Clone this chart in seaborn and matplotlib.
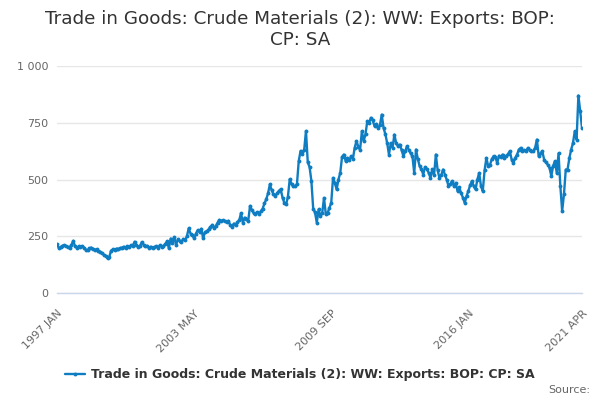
import pandas as pd
import matplotlib.pyplot as plt
import seaborn as sns

# Monthly values (1997 JAN .. 2021 APR)
y1997 = [215, 198, 202, 208, 210, 207, 203, 200, 212, 230, 205, 200]
y1998 = [205, 203, 207, 200, 190, 188, 197, 200, 195, 190, 193, 186]
y1999 = [182, 175, 168, 163, 152, 160, 187, 192, 190, 196, 193, 198]
y2000 = [200, 204, 198, 206, 203, 210, 208, 226, 212, 204, 208, 224]
y2001 = [212, 205, 208, 200, 204, 198, 202, 206, 200, 210, 203, 207]
y2002 = [215, 228, 197, 240, 222, 245, 212, 236, 228, 225, 238, 232]
y2003 = [250, 285, 262, 255, 241, 262, 277, 268, 283, 241, 268, 272]
y2004 = [280, 290, 300, 285, 295, 310, 322, 318, 320, 316, 312, 318]
y2005 = [300, 291, 306, 300, 312, 320, 352, 310, 332, 325, 318, 384]
y2006 = [365, 352, 348, 356, 350, 360, 372, 395, 413, 440, 479, 452]
y2007 = [435, 428, 440, 450, 457, 420, 398, 390, 425, 501, 480, 470]
y2008 = [470, 480, 582, 626, 611, 630, 714, 575, 555, 494, 372, 355]
y2009 = [310, 368, 340, 352, 419, 346, 353, 375, 397, 507, 485, 456]
y2010 = [500, 529, 600, 610, 581, 595, 584, 603, 590, 640, 669, 645]
y2011 = [632, 713, 669, 700, 757, 750, 772, 760, 735, 745, 725, 740]
y2012 = [786, 727, 700, 661, 610, 661, 640, 698, 660, 647, 654, 630]
y2013 = [603, 625, 647, 630, 615, 603, 529, 632, 590, 559, 545, 522]
y2014 = [555, 545, 530, 507, 545, 520, 610, 540, 507, 520, 544, 522]
y2015 = [500, 471, 480, 493, 470, 485, 449, 465, 440, 420, 397, 427]
y2016 = [449, 475, 493, 470, 456, 500, 529, 471, 449, 540, 595, 559]
y2017 = [565, 590, 603, 598, 573, 605, 600, 610, 596, 603, 612, 625]
y2018 = [588, 573, 595, 610, 632, 639, 625, 630, 625, 639, 628, 625]
y2019 = [625, 639, 676, 603, 615, 625, 588, 575, 566, 551, 515, 560]
y2020 = [581, 529, 615, 471, 361, 434, 544, 544, 595, 632, 661, 713]
y2021 = [676, 870, 801, 727]

series_name = "Trade in Goods: Crude Materials (2): WW: Exports: BOP: CP: SA"
title = "Trade in Goods: Crude Materials (2): WW: Exports: BOP:\nCP: SA"
y_ticks = [0, 250, 500, 750, 1000]
y_labels = ["0", "250", "500", "750", "1 000"]

values = (y1997 + y1998 + y1999 + y2000 + y2001 + y2002 + y2003 + y2004
          + y2005 + y2006 + y2007 + y2008 + y2009 + y2010 + y2011 + y2012
          + y2013 + y2014 + y2015 + y2016 + y2017 + y2018 + y2019 + y2020
          + y2021)
periods = pd.period_range("1997-01", periods=len(values), freq="M")
df = pd.DataFrame({"idx": range(len(values)), "value": values})

line_color = "#0f7dc2"

sns.set_style("white")
fig = plt.figure(figsize=(6, 4), dpi=100)
ax = fig.add_axes([0.095, 0.2675, 0.875, 0.5675])

sns.lineplot(data=df, x="idx", y="value", ax=ax, color=line_color,
             linewidth=1.7, marker="o", markersize=2.8,
             markeredgewidth=0, label=series_name, legend=False)

ax.set_ylim(0, 1000)
ax.set_xlim(0, len(values) - 1)
ax.set_yticks(y_ticks)
ax.set_yticklabels(y_labels)
ax.yaxis.grid(True, color="#e6e6e6", linewidth=1)
ax.tick_params(axis="y", length=0, labelsize=8, labelcolor="#666666", pad=6)

# x ticks every 19 months, labels every 4th tick plus the last month
tick_pos = list(range(0, len(values), 19)) + [len(values) - 1]
label_pos = [0, 76, 152, 228, len(values) - 1]
tick_lab = []
for p in tick_pos:
    if p in label_pos:
        per = periods[p]
        tick_lab.append(f"{per.year} {per.strftime('%b').upper()}")
    else:
        tick_lab.append("")
ax.set_xticks(tick_pos)
ax.set_xticklabels(tick_lab, rotation=45, ha="right", rotation_mode="anchor")
ax.tick_params(axis="x", length=9, width=1, color="#ccd6eb", direction="out",
               labelsize=8, labelcolor="#666666", pad=2)

ax.set_xlabel("")
ax.set_ylabel("")
for side in ["left", "right", "top"]:
    ax.spines[side].set_visible(False)
ax.spines["bottom"].set_color("#ccd6eb")
ax.spines["bottom"].set_linewidth(1)

fig.suptitle(title, fontsize=13.2, color="#333333", y=0.975,
             linespacing=1.2)

handles, labels = ax.get_legend_handles_labels()
leg = fig.legend(handles, labels, loc="center", bbox_to_anchor=(0.5, 0.063),
                 frameon=False, handlelength=1.6, handletextpad=0.5,
                 prop={"size": 9, "weight": "bold"})
for t in leg.get_texts():
    t.set_color("#333333")

fig.text(0.983, 0.025, "Source:", ha="right", va="center", fontsize=8,
         color="#666666")

fig.savefig("out.png", dpi=100)
